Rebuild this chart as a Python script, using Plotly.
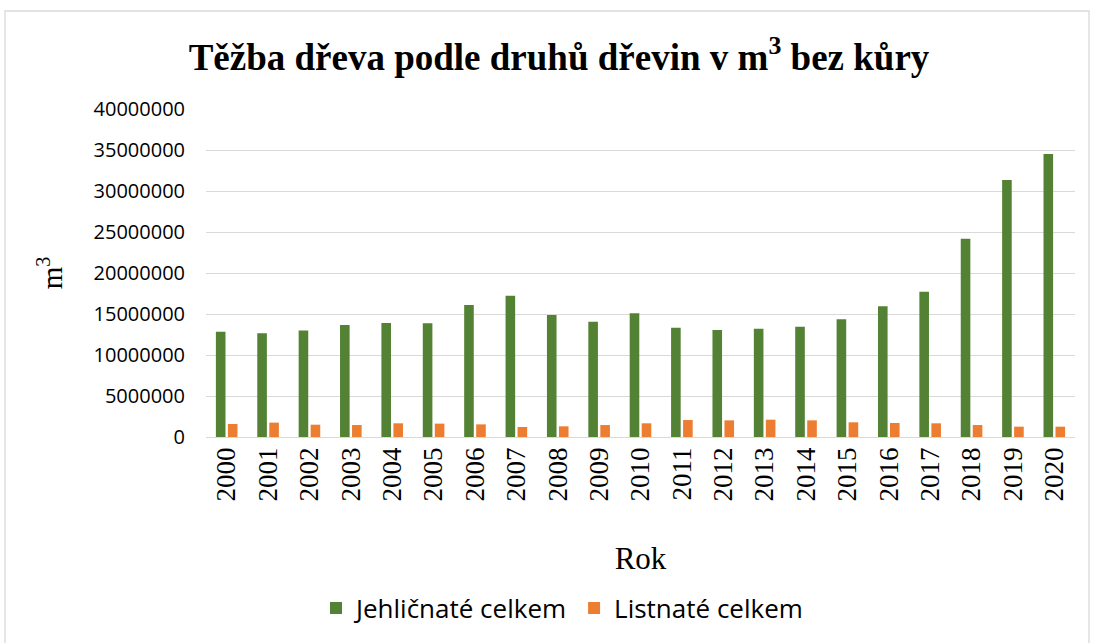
import plotly.graph_objects as go

years = [str(y) for y in range(2000, 2021)]
jehlicnate = [12850000, 12640000, 13000000, 13660000, 13900000, 13860000, 16100000,
              17240000, 14880000, 14070000, 15080000, 13330000, 13050000, 13210000,
              13460000, 14350000, 15930000, 17720000, 24190000, 31340000, 34510000]
listnate = [1590000, 1750000, 1500000, 1460000, 1670000, 1630000, 1540000, 1220000,
            1300000, 1460000, 1670000, 2070000, 2030000, 2110000, 2030000, 1790000,
            1710000, 1670000, 1460000, 1260000, 1260000]
y_ticks = [0, 5000000, 10000000, 15000000, 20000000, 25000000, 30000000, 35000000, 40000000]

GREEN = "#548235"
ORANGE = "#ED7D31"
SERIF = "Liberation Serif"
SANS = "Open Sans"

fig = go.Figure()
fig.add_trace(go.Bar(x=years, y=jehlicnate, name="Jehličnaté celkem",
                     marker=dict(color=GREEN, line=dict(width=0))))
fig.add_trace(go.Bar(x=years, y=listnate, name="Listnaté celkem",
                     marker=dict(color=ORANGE, line=dict(width=0))))

L, R, T, B = 206, 18, 109, 206
W, H = 1093, 643
pw, ph = W - L - R, H - T - B

def px_x(p):
    return (p - L) / pw

def px_y(p):
    return (H - B - p) / ph

fig.update_layout(
    width=W, height=H,
    margin=dict(l=L, r=R, t=T, b=B, autoexpand=False),
    paper_bgcolor="white", plot_bgcolor="white",
    barmode="group", bargap=0.42, bargroupgap=0.2,
    title=dict(text="<b>Těžba dřeva podle druhů dřevin v m<sup>3</sup> bez kůry</b>",
               x=559 / W, xanchor="center", xref="container",
               y=1 - 57 / H, yanchor="middle", yref="container",
               font=dict(family=SERIF, size=37, color="black")),
    legend=dict(orientation="h", x=px_x(562), xanchor="center",
                y=px_y(608), yanchor="middle",
                font=dict(family=SANS, size=26, color="black"),
                traceorder="normal"),
    xaxis=dict(type="category", tickangle=-90,
               tickfont=dict(family=SERIF, size=27, color="black"),
               showgrid=False, showline=False, ticks="", ticklabelstandoff=4,
               title=dict(text="Rok", standoff=46,
                          font=dict(family=SERIF, size=31, color="black"))),
    yaxis=dict(range=[0, 40000000], tickvals=y_ticks,
               ticktext=[str(v) for v in y_ticks],
               tickfont=dict(family=SANS, size=20, color="black"),
               showgrid=True, gridcolor="#D9D9D9", gridwidth=1.3,
               zeroline=True, zerolinecolor="#D9D9D9", zerolinewidth=1.3,
               showline=False, ticks="", ticklabelstandoff=20,
               title=dict(text="m<sup>3</sup>", standoff=22,
                          font=dict(family=SERIF, size=29, color="black"))),
    shapes=[dict(type="rect", xref="paper", yref="paper",
                 x0=px_x(5), x1=px_x(1089), y0=px_y(660), y1=px_y(11),
                 line=dict(color="#D9D9D9", width=1.3), fillcolor="rgba(0,0,0,0)",
                 layer="below")],
)

fig.write_html("out.html", config={"displayModeBar": False},
               post_script="document.body.style.margin='0';document.body.style.padding='0';")
